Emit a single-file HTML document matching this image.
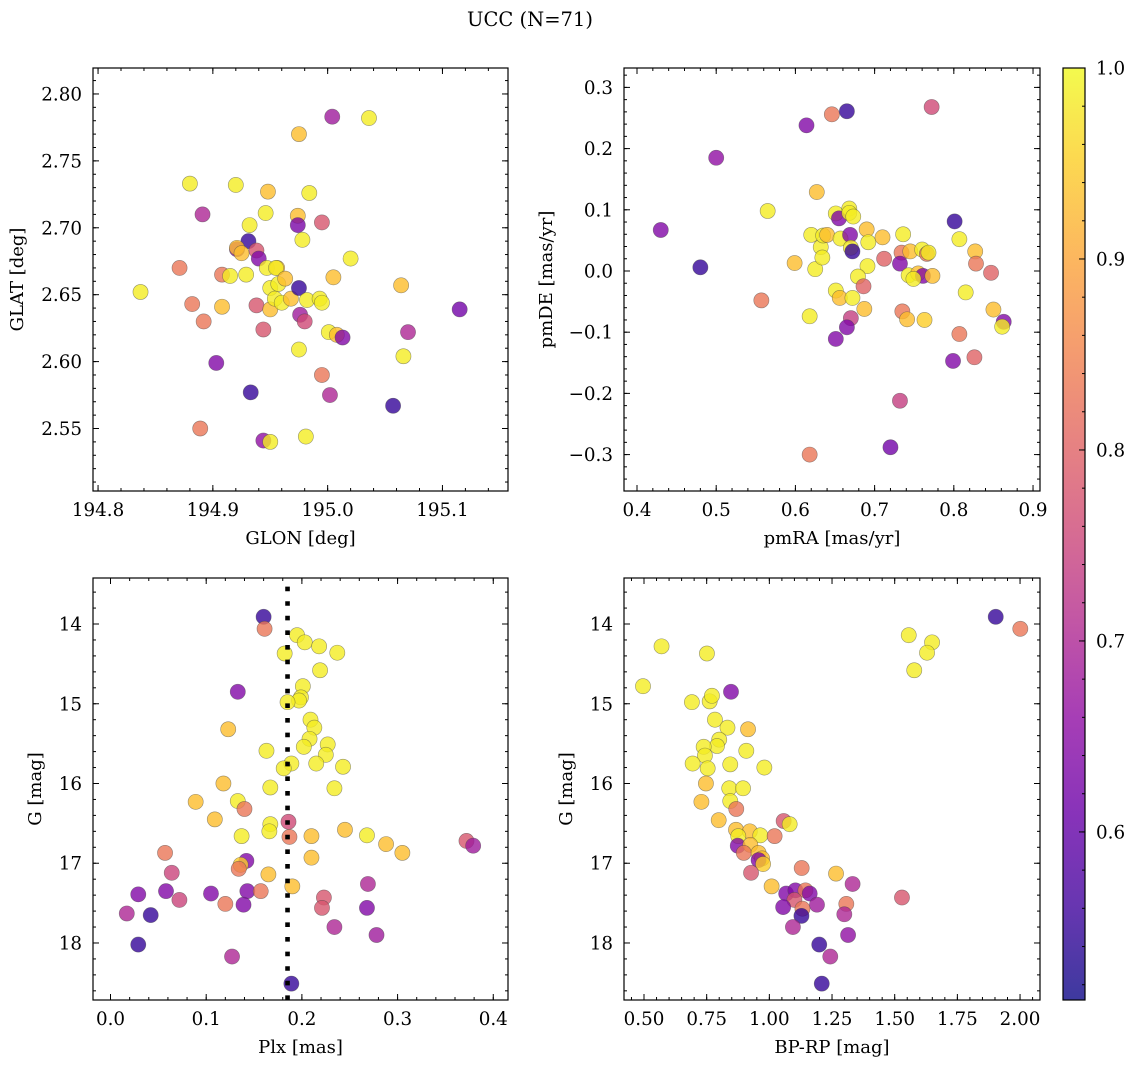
<!DOCTYPE html>
<html><head><meta charset="utf-8"><style>
html,body{margin:0;padding:0;background:#fff;}
svg{display:block;font-family:"DejaVu Serif","Liberation Serif",serif;}
</style></head><body>
<svg id="fig" width="1136" height="1068" viewBox="0 0 1136 1068" xmlns="http://www.w3.org/2000/svg">
<defs><linearGradient id="cbgrad" x1="0" y1="1" x2="0" y2="0"></linearGradient></defs>
<text x="530" y="26" text-anchor="middle" font-size="19.5">UCC (N=71)</text>
</svg>
<script>
// ---- Panel 1: GLON / GLAT ----
const glon=[194.837,194.871,194.880,194.882,194.891,194.892,194.889,194.903,194.908,194.915,194.908,194.920,194.929,194.932,194.931,194.921,194.921,194.925,194.938,194.940,194.933,194.938,194.944,194.944,194.946,194.948,194.947,194.956,194.955,194.950,194.957,194.963,194.950,194.954,194.960,194.968,194.950,194.975,194.974,194.974,194.978,194.975,194.976,194.980,194.982,194.984,194.975,194.981,194.993,194.995,194.995,194.995,195.004,195.005,195.001,195.008,195.013,195.002,195.020,195.036,195.057,195.064,195.066,195.070,195.115];
const glat=[2.652,2.670,2.733,2.643,2.710,2.630,2.550,2.599,2.665,2.664,2.641,2.732,2.665,2.702,2.690,2.684,2.685,2.681,2.683,2.677,2.577,2.642,2.624,2.541,2.711,2.727,2.670,2.670,2.670,2.655,2.658,2.662,2.639,2.647,2.644,2.647,2.540,2.770,2.709,2.702,2.691,2.655,2.635,2.630,2.646,2.726,2.609,2.544,2.647,2.644,2.704,2.590,2.783,2.663,2.622,2.620,2.618,2.575,2.677,2.782,2.567,2.657,2.604,2.622,2.639];
const probPos=[.985,.83,.985,.83,.70,.83,.83,.64,.83,.985,.93,.985,.985,.985,.55,.66,.93,.93,.78,.64,.55,.78,.78,.66,.985,.93,.985,.93,.985,.985,.985,.93,.93,.985,.985,.93,.985,.93,.93,.63,.985,.55,.68,.76,.985,.985,.985,.985,.985,.985,.78,.83,.68,.93,.985,.93,.64,.70,.985,.985,.55,.93,.985,.70,.62];
// ---- Panel 2: pmRA / pmDE ----
const pmra=[.430,.480,.500,.565,.557,.599,.614,.646,.665,.772,.627,.620,.618,.625,.632,.634,.635,.640,.651,.655,.657,.668,.668,.673,.669,.670,.672,.690,.692,.710,.691,.679,.686,.651,.656,.672,.687,.670,.665,.651,.712,.736,.734,.745,.732,.760,.766,.768,.743,.755,.761,.749,.773,.735,.741,.763,.801,.807,.827,.828,.847,.815,.850,.863,.861,.807,.799,.826,.732,.720,.618];
const pmde=[.067,.006,.185,.098,-.048,.013,.238,.256,.261,.268,.129,.059,-.074,.003,.039,.022,.058,.059,.094,.086,.053,.102,.095,.089,.059,.038,.032,.068,.047,.055,.008,-.009,-.025,-.032,-.044,-.044,-.062,-.077,-.092,-.111,.020,.060,.030,.032,.012,.035,.028,.030,-.007,-.004,-.008,-.013,-.008,-.066,-.079,-.080,.081,.052,.032,.012,-.003,-.035,-.063,-.083,-.091,-.103,-.147,-.141,-.212,-.288,-.300];
const probPm=[.64,.55,.66,.985,.83,.93,.64,.83,.55,.76, .93,.985,.985,.985,.985,.985,.985,.93,.985,.64, .985,.985,.985,.985,.64,.985,.55,.93,.985,.93, .985,.985,.80,.985,.93,.985,.93,.74,.64,.64, .80,.985,.83,.93,.64,.985,.83,.985,.985,.93, .64,.985,.93,.83,.93,.95,.55,.985,.93,.83, .80,.985,.93,.64,.985,.83,.64,.80,.74,.62,.83];
// ---- Panel 3: Plx / G ----
const plx=[.160,.161,.195,.203,.218,.237,.182,.219,.133,.201,.199,.197,.185,.123,.209,.213,.208,.202,.227,.225,.163,.189,.181,.215,.243,.118,.167,.234,.089,.133,.140,.109,.167,.166,.186,.137,.187,.210,.245,.268,.288,.305,.372,.379,.210,.057,.142,.136,.134,.165,.064,.190,.029,.058,.072,.105,.143,.157,.120,.139,.269,.223,.221,.268,.017,.042,.234,.278,.029,.127,.189];
const gPlx=[13.91,14.06,14.14,14.23,14.28,14.36,14.37,14.58,14.85,14.78,14.92,14.96,14.98,15.32,15.20,15.30,15.44,15.54,15.51,15.64,15.59,15.75,15.81,15.75,15.79,16.00,16.05,16.06,16.23,16.22,16.32,16.45,16.51,16.60,16.48,16.66,16.67,16.66,16.58,16.65,16.76,16.87,16.72,16.78,16.93,16.87,16.97,17.02,17.07,17.14,17.12,17.29,17.39,17.35,17.46,17.38,17.35,17.35,17.51,17.52,17.26,17.43,17.56,17.56,17.63,17.65,17.80,17.90,18.02,18.17,18.51];
const probPlx=[.55,.83,.985,.985,.985,.985,.985,.985,.64,.985, .985,.985,.985,.93,.985,.985,.985,.985,.985,.985, .985,.985,.985,.985,.985,.93,.985,.985,.93,.985, .83,.93,.985,.985,.76,.985,.83,.93,.93,.985, .93,.93,.78,.68,.93,.83,.64,.95,.83,.93, .75,.93,.64,.64,.75,.64,.64,.83,.83,.64, .70,.78,.78,.64,.70,.55,.70,.68,.55,.70,.55];
const plxLine=[0.185];
// ---- Panel 4: BP-RP / G ----
const bprp=[.496,.570,.751,.847,.691,.762,.771,.783,.833,.915,.800,.791,.738,.743,.908,.694,.754,.844,.980,.747,.840,.895,.729,.844,.868,.798,1.057,1.081,.867,.922,.876,.964,1.021,.874,.924,.898,.957,.971,.957,.975,.927,1.129,1.266,1.009,1.332,1.067,1.104,1.144,1.161,1.100,1.190,1.307,1.055,1.132,1.128,1.299,1.529,1.094,1.314,1.199,1.243,1.209,1.556,1.649,1.629,1.578,1.903,2.001];
const gCol=[14.78,14.28,14.37,14.85,14.98,14.97,14.90,15.20,15.30,15.32,15.45,15.53,15.54,15.65,15.59,15.75,15.81,15.76,15.80,16.00,16.06,16.06,16.23,16.22,16.32,16.46,16.47,16.51,16.58,16.60,16.66,16.65,16.66,16.78,16.77,16.87,16.87,16.94,16.96,17.01,17.12,17.06,17.13,17.29,17.26,17.38,17.34,17.34,17.38,17.46,17.52,17.51,17.55,17.57,17.66,17.64,17.43,17.80,17.90,18.02,18.17,18.51,14.14,14.23,14.36,14.58,13.91,14.06];
const probCol=[.985,.985,.985,.64,.985,.985,.985,.985,.985,.93, .985,.985,.985,.985,.985,.985,.985,.985,.985,.93, .985,.985,.93,.985,.83,.93,.78,.985,.93,.93, .985,.985,.83,.64,.93,.83,.93,.93,.64,.95, .78,.83,.93,.93,.70,.64,.64,.83,.64,.78, .68,.83,.64,.83,.55,.70,.78,.70,.66,.55, .70,.55,.985,.985,.985,.985,.55,.83];
// ---- Colorbar ----
const cbTicks=[0.6,0.7,0.8,0.9,1.0];
const cbRange=[0.512,1.0];

const NS="http://www.w3.org/2000/svg";
const svg=document.getElementById('fig');
function mk(tag,attrs,parent){const e=document.createElementNS(NS,tag);for(const k in attrs)e.setAttribute(k,attrs[k]);(parent||svg).appendChild(e);return e;}
const stops=[[0,13,8,135],[.1,65,4,157],[.2,106,0,168],[.3,143,13,164],[.4,177,42,144],[.5,204,71,120],[.6,225,100,98],[.7,242,132,75],[.8,252,166,54],[.9,252,206,37],[1,240,249,33]];
function plasma(t){t=Math.max(0,Math.min(1,t));for(let i=1;i<stops.length;i++){if(t<=stops[i][0]){const a=stops[i-1],b=stops[i],f=(t-a[0])/(b[0]-a[0]);return `rgb(${Math.round(a[1]+f*(b[1]-a[1]))},${Math.round(a[2]+f*(b[2]-a[2]))},${Math.round(a[3]+f*(b[3]-a[3]))})`;}}return 'rgb(240,249,33)';}
function cmap(p){return plasma((p-cbRange[0])/(cbRange[1]-cbRange[0]));}
function fmt(v,d){const s=Math.abs(v).toFixed(d);return (v<-1e-9?'\u2212':'')+s;}

function panel(name,box,xr,yr,xmaj,xminStep,xdec,ymaj,yminStep,ydec,xlabel,ylabel,ylabX,xs,ys,ps){
  const g=mk('g',{});
  
  
  const W=box[2]-box[0],H=box[3]-box[1];
  const sx=v=>box[0]+(v-xr[0])/(xr[1]-xr[0])*W;
  const sy=v=>box[1]+(yr[0]-v)/(yr[0]-yr[1])*H;
  const pg=mk('g',{},g);
  
  
  const n=Math.min(xs.length,ys.length,ps.length);
  for(let i=0;i<n;i++){
    const c=mk('circle',{cx:sx(xs[i]).toFixed(2),cy:sy(ys[i]).toFixed(2),r:7.6,fill:cmap(ps[i]),'fill-opacity':0.8,stroke:'rgba(70,70,70,0.55)','stroke-width':0.6},pg);
    
    
  }
  const tg=mk('g',{stroke:'#000','stroke-width':1},g);
  
  
  const xlo=Math.min(...xr),xhi=Math.max(...xr),ylo=Math.min(...yr),yhi=Math.max(...yr);
  for(let k=Math.ceil(xlo/xminStep-1e-6);k*xminStep<=xhi+1e-9;k++){const x=sx(k*xminStep);mk('line',{x1:x,x2:x,y1:box[3],y2:box[3]-3},tg);mk('line',{x1:x,x2:x,y1:box[1],y2:box[1]+3},tg);}
  for(let k=Math.ceil(ylo/yminStep-1e-6);k*yminStep<=yhi+1e-9;k++){const y=sy(k*yminStep);mk('line',{x1:box[0],x2:box[0]+3,y1:y,y2:y},tg);mk('line',{x1:box[2],x2:box[2]-3,y1:y,y2:y},tg);}
  xmaj.forEach(v=>{const x=sx(v);mk('line',{x1:x,x2:x,y1:box[3],y2:box[3]-6},tg);mk('line',{x1:x,x2:x,y1:box[1],y2:box[1]+6},tg);
    const t=mk('text',{x:x,y:box[3]+25,'text-anchor':'middle','font-size':18.3},g);t.textContent=fmt(v,xdec);
    });
  ymaj.forEach(v=>{const y=sy(v);mk('line',{x1:box[0],x2:box[0]+6,y1:y,y2:y},tg);mk('line',{x1:box[2],x2:box[2]-6,y1:y,y2:y},tg);
    const t=mk('text',{x:box[0]-11,y:y+6.5,'text-anchor':'end','font-size':18.3},g);t.textContent=fmt(v,ydec);
    });
  const fr=mk('rect',{x:box[0],y:box[1],width:W,height:H,fill:'none',stroke:'#000','stroke-width':1.2},g);
  
  const xl=mk('text',{x:(box[0]+box[2])/2,y:box[3]+53,'text-anchor':'middle','font-size':18},g);xl.textContent=xlabel;
  
  const cy=(box[1]+box[3])/2;
  const yl=mk('text',{x:ylabX,y:cy,'text-anchor':'middle','font-size':18,transform:`rotate(-90 ${ylabX} ${cy})`},g);yl.textContent=ylabel;
  
  return {g,sx,sy};
}

panel('panel-glon-glat',[93,68,508,491],[194.7956,195.1571],[2.8194,2.5033],[194.8,194.9,195.0,195.1],0.02,1,[2.55,2.60,2.65,2.70,2.75,2.80],0.01,2,'GLON [deg]','GLAT [deg]',23,glon,glat,probPos);
panel('panel-pmra-pmde',[624,68,1040,491],[0.3836,0.9088],[0.3317,-0.3595],[0.4,0.5,0.6,0.7,0.8,0.9],0.02,1,[-0.3,-0.2,-0.1,0,0.1,0.2,0.3],0.02,1,'pmRA [mas/yr]','pmDE [mas/yr]',552,pmra,pmde,probPm);
const p3=panel('panel-plx-g',[93,578,508,1000],[-0.0183,0.4154],[13.423,18.715],[0,0.1,0.2,0.3,0.4],0.02,1,[14,15,16,17,18],0.2,0,'Plx [mas]','G [mag]',41,plx,gPlx,probPlx);
panel('panel-bprp-g',[624,578,1040,1000],[0.4202,2.0796],[13.423,18.715],[0.5,0.75,1.0,1.25,1.5,1.75,2.0],0.05,2,[14,15,16,17,18],0.2,0,'BP-RP [mag]','G [mag]',572,bprp,gCol,probCol);

plxLine.forEach(v=>{const x=p3.sx(v);
  const l=mk('line',{x1:x,x2:x,y1:1000,y2:578,stroke:'#000','stroke-width':4.6,'stroke-dasharray':'4.6 10'},p3.g);
  
  
});

const grad=document.getElementById('cbgrad');
for(let i=0;i<=20;i++){const t=i/20;mk('stop',{offset:t,'stop-color':plasma(t)},grad);}
const cb=[1063,68,1085,1000];
const cbg=mk('g',{});


mk('rect',{x:cb[0],y:cb[1],width:cb[2]-cb[0],height:cb[3]-cb[1],fill:'url(#cbgrad)','fill-opacity':0.8},cbg);
const cby=v=>cb[3]-(v-cbRange[0])/(cbRange[1]-cbRange[0])*(cb[3]-cb[1]);
for(let k=Math.ceil(cbRange[0]/0.02-1e-6);k*0.02<=cbRange[1]+1e-9;k++){const y=cby(k*0.02);mk('line',{x1:cb[2],x2:cb[2]-3,y1:y,y2:y,stroke:'#000','stroke-width':1},cbg);}
cbTicks.forEach(v=>{const y=cby(v);mk('line',{x1:cb[2],x2:cb[2]-6,y1:y,y2:y,stroke:'#000','stroke-width':1},cbg);
  const t=mk('text',{x:cb[2]+11,y:y+6.5,'font-size':18.3},cbg);t.textContent=v.toFixed(1);
  });
mk('rect',{x:cb[0],y:cb[1],width:cb[2]-cb[0],height:cb[3]-cb[1],fill:'none',stroke:'#000','stroke-width':1.2},cbg);
</script>
</body></html>
